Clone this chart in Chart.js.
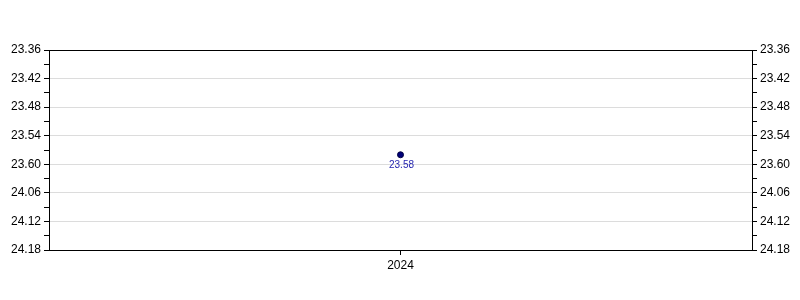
<!DOCTYPE html>
<html>
<head>
<meta charset="utf-8">
<script src="https://cdn.jsdelivr.net/npm/chart.js@4"></script>
<style>
html,body{margin:0;padding:0;background:#fff;}
#wrap{width:800px;height:300px;}
</style>
</head>
<body>
<div id="wrap"><canvas id="c" width="800" height="300"></canvas></div>
<script>
// Data (times as min.sec, stored in seconds)
const categories = ['2024'];
const seriesSeconds = [1438];          // 23.58
const seriesLabels = ['23.58'];
const yMin = 1416, yMax = 1458, yStep = 6;
const yTickLabels = ['23.36','23.42','23.48','23.54','23.60','24.06','24.12','24.18'];

function labelFor(v){
  const idx = Math.round((v - yMin) / yStep);
  if (Math.abs(v - (yMin + idx*yStep)) > 0.01) return '';
  return yTickLabels[idx] !== undefined ? yTickLabels[idx] : '';
}
function isMajor(v){ return Math.abs(((v - yMin) % yStep)) < 0.01; }

const font = {family: 'Liberation Sans, Arial, sans-serif', size: 12};

const pointLabels = {
  id: 'pointLabels',
  afterDatasetsDraw(chart){
    const ctx = chart.ctx;
    const meta = chart.getDatasetMeta(0);
    ctx.save();
    ctx.font = '10px Liberation Sans, Arial, sans-serif';
    ctx.fillStyle = '#2626b0';
    ctx.textAlign = 'center';
    ctx.textBaseline = 'middle';
    meta.data.forEach((pt, i) => {
      ctx.fillText(seriesLabels[i], pt.x + 1, pt.y + 10);
    });
    ctx.restore();
  }
};

const yCommon = (pos) => ({
  type: 'linear',
  position: pos,
  reverse: true,
  min: yMin,
  max: yMax,
  afterBuildTicks(scale){
    const t = [];
    for (let v = yMin; v <= yMax + 0.001; v += yStep/2) t.push({value: v});
    scale.ticks = t;
  },
  afterFit(scale){ scale.width = pos === 'left' ? 49 : 48; },
  ticks: {
    color: '#000',
    font: font,
    padding: 3,
    autoSkip: false,
    callback: (v) => labelFor(v)
  },
  grid: {
    drawOnChartArea: pos === 'left',
    drawTicks: true,
    tickLength: 5,
    tickColor: '#000',
    color: (ctx) => {
      const v = ctx.tick ? ctx.tick.value : null;
      if (v === yMin || v === yMax) return '#000';
      if (v !== null && isMajor(v)) return '#dcdcdc';
      return 'rgba(0,0,0,0)';
    },
    lineWidth: 1
  },
  border: {display: true, color: '#000', width: 1}
});

new Chart(document.getElementById('c'), {
  type: 'line',
  data: {
    labels: categories,
    datasets: [{
      data: seriesSeconds,
      showLine: false,
      pointRadius: 3,
      pointBackgroundColor: '#00007a',
      pointBorderColor: '#000040',
      pointBorderWidth: 1,
      yAxisID: 'y'
    }]
  },
  options: {
    responsive: false,
    animation: false,
    layout: {padding: {top: 50, left: 0, right: 0, bottom: 0}},
    plugins: {legend: {display: false}, tooltip: {enabled: false}},
    scales: {
      x: {
        type: 'category',
        offset: true,
        afterFit(scale){ scale.height = 50; },
        ticks: {color: '#000', font: font, padding: 3},
        grid: {drawOnChartArea: false, drawTicks: true, tickLength: 5, tickColor: '#000', offset: false},
        border: {display: true, color: '#000', width: 1}
      },
      y: yCommon('left'),
      y2: yCommon('right')
    }
  },
  plugins: [pointLabels]
});
</script>
</body>
</html>
